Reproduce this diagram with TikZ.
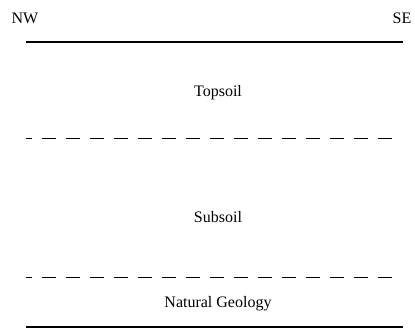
\documentclass[tikz,border=0pt]{standalone}
\usepackage{fontspec}
\setmainfont{Liberation Serif}
\begin{document}
\begin{tikzpicture}[x=1pt,y=-1pt,
    layer/.style={font=\fontsize{16}{18}\selectfont, inner sep=0pt},
    solidline/.style={line width=1.1pt},
    boundary/.style={line width=1pt, dash pattern=on 14pt off 10pt, dash phase=8pt}]
  \useasboundingbox (0,0) rectangle (415,329);
  % orientation labels
  \node[layer] (nw) at (25,18) {NW};
  \node[layer] (se) at (402,18) {SE};
  % ground surface and base of section
  \coordinate (surfL) at (26,42);
  \coordinate (surfR) at (403,42);
  \coordinate (baseL) at (26,327);
  \coordinate (baseR) at (403,327);
  % horizon boundaries
  \coordinate (h1L) at (26,138);
  \coordinate (h1R) at (398,138);
  \coordinate (h2L) at (26,277);
  \coordinate (h2R) at (398,277);
  \draw[solidline] (surfL) -- (surfR);
  \draw[boundary] (h1L) -- (h1R);
  \draw[boundary] (h2L) -- (h2R);
  \draw[solidline] (baseL) -- (baseR);
  % layer names
  \node[layer] (top) at (218,93) {Topsoil};
  \node[layer] (sub) at (218,217) {Subsoil};
  \node[layer] (geo) at (218,304) {Natural Geology};
\end{tikzpicture}
\end{document}
